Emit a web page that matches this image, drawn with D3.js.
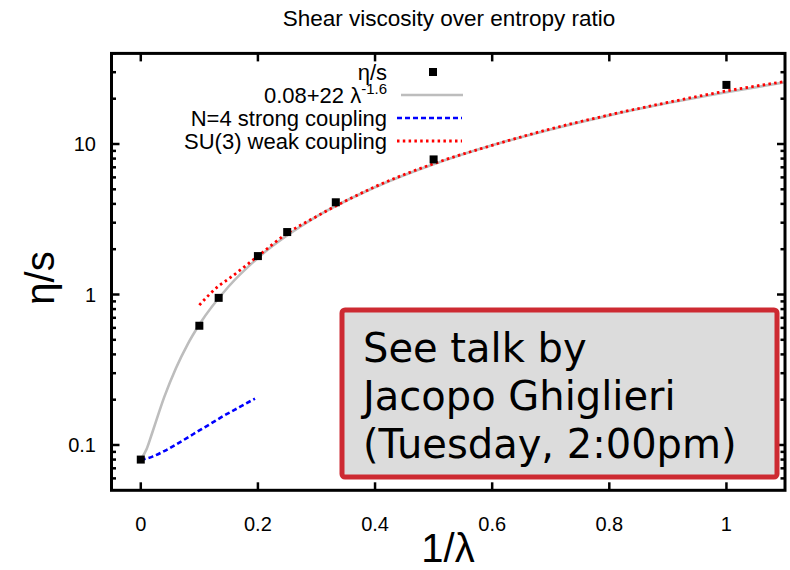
<!DOCTYPE html>
<html>
<head>
<meta charset="utf-8">
<script src="https://cdn.jsdelivr.net/npm/d3@7"></script>
<style>
  body { margin: 0; background: #fff; }
  text { font-family: "Liberation Sans", Arial, sans-serif; fill: #000; }
</style>
</head>
<body>
<div id="chart"></div>
<script>
"use strict";

// measured eta/s points (x = 1/lambda)
var ptX = [0, 0.1, 0.133, 0.2, 0.25, 0.333, 0.5, 1.0];
var ptY = [0.08, 0.62, 0.95, 1.8, 2.6, 4.1, 7.9, 24.7];

// fit 0.08+22 lambda^-1.6
var fitX = [0, 0.01, 0.02, 0.04, 0.06, 0.08, 0.1, 0.15, 0.2, 0.3, 0.4, 0.5, 0.6, 0.7, 0.8, 0.9, 1.0, 1.1];
var fitY = [0.08, 0.094, 0.122, 0.208, 0.324, 0.467, 0.632, 1.13, 1.75, 3.29, 5.16, 7.34, 9.8, 12.5, 15.5, 18.7, 22.1, 25.7];

// N=4 strong coupling (blue dashed)
var strongX = [0, 0.02, 0.04, 0.06, 0.08, 0.1, 0.12, 0.14, 0.16, 0.18, 0.195];
var strongY = [0.0796, 0.0837, 0.0911, 0.1007, 0.112, 0.125, 0.139, 0.155, 0.171, 0.189, 0.203];

// SU(3) weak coupling (red dotted)
var weakX = [0.1, 0.133, 0.15, 0.2, 0.25, 0.3, 0.4, 0.5, 0.6, 0.7, 0.8, 0.9, 1.0, 1.1];
var weakY = [0.85, 1.14, 1.27, 1.8, 2.55, 3.3, 5.2, 7.4, 9.8, 12.6, 15.6, 18.9, 22.5, 26.0];

var xTicks = [0, 0.2, 0.4, 0.6, 0.8, 1];
var xTickLabels = ["0", "0.2", "0.4", "0.6", "0.8", "1"];
var yTicks = [0.1, 1, 10];
var yTickLabels = ["0.1", "1", "10"];
var yMinor = [0.06, 0.07, 0.08, 0.09, 0.2, 0.3, 0.4, 0.5, 0.6, 0.7, 0.8, 0.9, 2, 3, 4, 5, 6, 7, 8, 9, 20, 30, 40];

var legendLabels = ["η/s", "0.08+22 λ", "N=4 strong coupling", "SU(3) weak coupling"];
var noteLines = ["See talk by", "Jacopo Ghiglieri", "(Tuesday, 2:00pm)"];

var W = 790, H = 570;
var pL = 111.5, pR = 785, pT = 53.4, pB = 490.3;

var svg = d3.select("#chart").append("svg").attr("width", W).attr("height", H);

var x = d3.scaleLinear().domain([-0.05, 1.1]).range([pL, pR]);
var y = d3.scaleLog().domain([0.05, 40]).range([pB, pT]);

function zip(a, b) {
  return a.map(function (v, i) { return [v, b[i]]; });
}

var line = d3.line().x(function (d) { return x(d[0]); }).y(function (d) { return y(d[1]); }).curve(d3.curveMonotoneX);

var plot = svg.append("g");
plot.append("clipPath").attr("id", "clip").append("rect")
  .attr("x", pL).attr("y", pT).attr("width", pR - pL).attr("height", pB - pT);

var curves = plot.append("g").attr("clip-path", "url(#clip)");

curves.append("path").datum(zip(fitX, fitY)).attr("d", line)
  .attr("fill", "none").attr("stroke", "#bdbdbd").attr("stroke-width", 2.6);

curves.append("path").datum(zip(strongX, strongY)).attr("d", line)
  .attr("fill", "none").attr("stroke", "#0000ff").attr("stroke-width", 2.6).attr("stroke-dasharray", "5,3");

curves.append("path").datum(zip(weakX, weakY)).attr("d", line)
  .attr("fill", "none").attr("stroke", "#ff0000").attr("stroke-width", 2.8).attr("stroke-dasharray", "2.5,3.3");

curves.selectAll("rect.pt").data(zip(ptX, ptY)).enter().append("rect").attr("class", "pt")
  .attr("x", function (d) { return x(d[0]) - 4; })
  .attr("y", function (d) { return y(d[1]) - 4; })
  .attr("width", 8).attr("height", 8).attr("fill", "#000");

// ticks, inward on all four sides
var tk = plot.append("g").attr("stroke", "#000").attr("stroke-width", 2.5);
xTicks.forEach(function (v) {
  tk.append("line").attr("x1", x(v)).attr("x2", x(v)).attr("y1", pB).attr("y2", pB - 8);
  tk.append("line").attr("x1", x(v)).attr("x2", x(v)).attr("y1", pT).attr("y2", pT + 8);
});
yTicks.forEach(function (v) {
  tk.append("line").attr("x1", pL).attr("x2", pL + 8).attr("y1", y(v)).attr("y2", y(v));
  tk.append("line").attr("x1", pR).attr("x2", pR - 8).attr("y1", y(v)).attr("y2", y(v));
});
yMinor.forEach(function (v) {
  tk.append("line").attr("x1", pL).attr("x2", pL + 4.5).attr("y1", y(v)).attr("y2", y(v));
  tk.append("line").attr("x1", pR).attr("x2", pR - 4.5).attr("y1", y(v)).attr("y2", y(v));
});

plot.append("rect").attr("x", pL).attr("y", pT).attr("width", pR - pL).attr("height", pB - pT)
  .attr("fill", "none").attr("stroke", "#000").attr("stroke-width", 3);

// tick labels
svg.selectAll("text.xt").data(xTicks).enter().append("text").attr("class", "xt")
  .attr("x", function (d) { return x(d); }).attr("y", 531)
  .attr("text-anchor", "middle").style("font-size", "20px")
  .text(function (d, i) { return xTickLabels[i]; });

svg.selectAll("text.yt").data(yTicks).enter().append("text").attr("class", "yt")
  .attr("x", 96).attr("y", function (d) { return y(d) + 7; })
  .attr("text-anchor", "end").style("font-size", "20px")
  .text(function (d, i) { return yTickLabels[i]; });

// axis titles
svg.append("text").attr("x", 448).attr("y", 562).attr("text-anchor", "middle")
  .style("font-size", "40px").text("1/λ");
svg.append("text").attr("text-anchor", "middle").attr("transform", "translate(54,278)rotate(-90)")
  .style("font-size", "40px").text("η/s");

svg.append("text").attr("x", 449).attr("y", 26).attr("text-anchor", "middle")
  .style("font-size", "22.5px").text("Shear viscosity over entropy ratio");

// legend
var legY = [72, 95, 118, 141];
var leg = svg.append("g");
legendLabels.forEach(function (s, i) {
  var t = leg.append("text").attr("x", 387).attr("y", legY[i] + 8).attr("text-anchor", "end")
    .style("font-size", "22px").text(s);
  if (i === 1) {
    t.append("tspan").attr("dy", -9).style("font-size", "15px").text("-1.6");
  }
});
leg.append("rect").attr("x", 429).attr("y", legY[0] - 4).attr("width", 8).attr("height", 8).attr("fill", "#000");
leg.append("line").attr("x1", 401).attr("x2", 463).attr("y1", legY[1]).attr("y2", legY[1])
  .attr("stroke", "#bdbdbd").attr("stroke-width", 2.6);
leg.append("line").attr("x1", 397).attr("x2", 462).attr("y1", legY[2]).attr("y2", legY[2])
  .attr("stroke", "#0000ff").attr("stroke-width", 2.6).attr("stroke-dasharray", "5,3");
leg.append("line").attr("x1", 397).attr("x2", 462).attr("y1", legY[3]).attr("y2", legY[3])
  .attr("stroke", "#ff0000").attr("stroke-width", 2.8).attr("stroke-dasharray", "2.5,3.3");

// annotation box
var note = svg.append("g");
note.append("rect").attr("x", 342).attr("y", 310).attr("width", 435).attr("height", 167).attr("rx", 3)
  .attr("fill", "#dcdcdc").attr("stroke", "#cd2a32").attr("stroke-width", 5);
noteLines.forEach(function (s, i) {
  note.append("text").attr("x", 363).attr("y", 362 + i * 48)
    .style("font-family", "'DejaVu Sans', Verdana, sans-serif").style("font-size", "40px").text(s);
});
</script>
</body>
</html>
